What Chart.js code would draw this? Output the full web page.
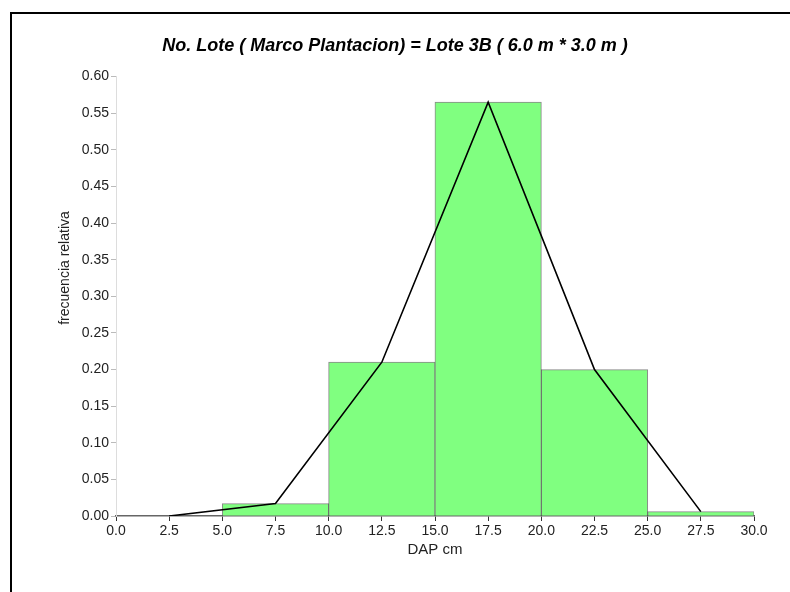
<!DOCTYPE html>
<html>
<head>
<meta charset="utf-8">
<script src="https://cdn.jsdelivr.net/npm/chart.js@4"></script>
<style>
  html, body { margin: 0; padding: 0; background: #fff; overflow: hidden; }
  #wrap { position: relative; width: 790px; height: 592px; }
  #c { position: absolute; left: 0; top: 0; }
  #frame { position: absolute; left: 10px; top: 12px; width: 800px; height: 600px;
           border-left: 2px solid #000; border-top: 2px solid #000; pointer-events: none; }
</style>
</head>
<body>
<div id="wrap">
  <canvas id="c" width="790" height="592"></canvas>
  <div id="frame"></div>
</div>
<script>
// Bin midpoints (DAP cm) and relative frequencies
const binMidpoints = [2.5, 7.5, 12.5, 17.5, 22.5, 27.5];
const barValues    = [0.000, 0.017, 0.210, 0.565, 0.200, 0.006];
const polygonValues = [0.000, 0.017, 0.210, 0.565, 0.200, 0.006];

const titleText = 'No. Lote ( Marco Plantacion) = Lote 3B ( 6.0 m * 3.0 m )';
const xTitle = 'DAP cm';
const yTitle = 'frecuencia relativa';

const FONT = '"Liberation Sans", Arial, sans-serif';

const barData = binMidpoints.map((x, i) => ({ x: x, y: barValues[i] }));
const lineData = binMidpoints.map((x, i) => ({ x: x, y: polygonValues[i] }));

const yTitlePlugin = {
  id: 'yTitlePlugin',
  afterDraw(chart) {
    const ctx = chart.ctx;
    ctx.save();
    ctx.translate(65, 268);
    ctx.rotate(-Math.PI / 2);
    ctx.font = '14px ' + FONT;
    ctx.fillStyle = '#222';
    ctx.textAlign = 'center';
    ctx.textBaseline = 'middle';
    ctx.fillText(yTitle, 0, 0);
    ctx.restore();
  }
};

new Chart(document.getElementById('c'), {
  type: 'bar',
  data: {
    datasets: [
      {
        type: 'line',
        data: lineData,
        borderColor: '#000',
        borderWidth: 1.6,
        pointRadius: 0,
        tension: 0,
        fill: false,
        order: 0
      },
      {
        type: 'bar',
        data: barData,
        backgroundColor: '#80FF80',
        borderColor: 'rgba(40,40,40,0.55)',
        borderWidth: { top: 1, left: 1, right: 1, bottom: 0 },
        borderSkipped: false,
        inflateAmount: 0.4,
        barPercentage: 2.0,
        categoryPercentage: 1.0,
        order: 1
      }
    ]
  },
  plugins: [yTitlePlugin],
  options: {
    responsive: false,
    animation: false,
    layout: { padding: { left: 36, right: 36, top: 0, bottom: 16 } },
    plugins: {
      legend: { display: false },
      tooltip: { enabled: false },
      title: {
        display: true,
        text: titleText,
        font: { family: FONT, size: 18, weight: 'bold', style: 'italic' },
        color: '#000',
        padding: { top: 35, bottom: 20 }
      }
    },
    scales: {
      x: {
        type: 'linear',
        min: 0,
        max: 30,
        offset: false,
        z: 1,
        afterFit(s) { s.height = 60; },
        grid: { offset: false, drawOnChartArea: false, drawTicks: true, tickLength: 5, color: '#333' },
        border: { display: true, color: '#666', width: 1.5 },
        ticks: {
          stepSize: 2.5,
          autoSkip: false,
          maxRotation: 0,
          padding: 2,
          color: '#222',
          font: { family: FONT, size: 14 },
          callback: (v) => Number(v).toFixed(1)
        },
        title: {
          display: true,
          text: xTitle,
          color: '#222',
          font: { family: FONT, size: 15 },
          padding: { top: 2, bottom: 17 }
        }
      },
      y: {
        min: 0,
        max: 0.6,
        afterFit(s) { s.width = 80; },
        grid: { drawOnChartArea: false, drawTicks: true, tickLength: 5, color: '#bbb' },
        border: { display: true, color: '#ddd', width: 1 },
        ticks: {
          stepSize: 0.05,
          autoSkip: false,
          padding: 2,
          color: '#222',
          font: { family: FONT, size: 14 },
          callback: (v) => Number(v).toFixed(2)
        },
        title: { display: false }
      }
    }
  }
});
</script>
</body>
</html>
